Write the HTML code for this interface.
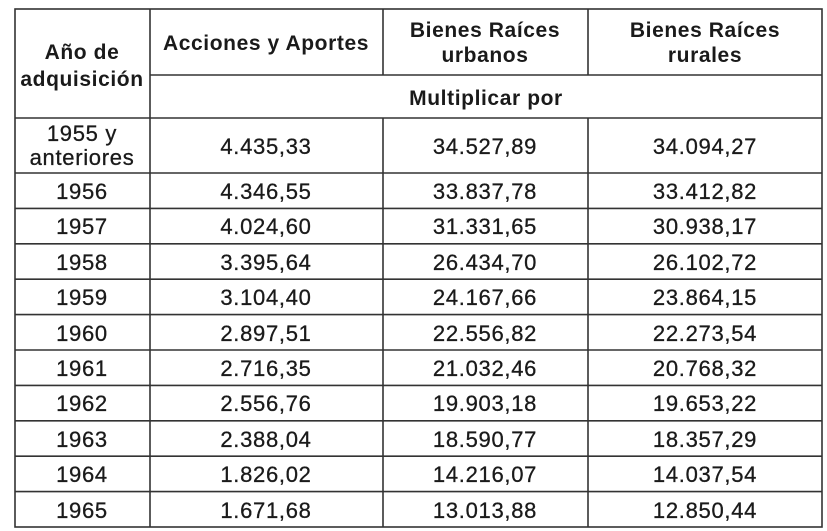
<!DOCTYPE html>
<html><head><meta charset="utf-8"><style>
html,body{margin:0;padding:0;background:#fff;width:827px;height:531px;overflow:hidden}
</style></head><body>
<svg width="827" height="531" xmlns="http://www.w3.org/2000/svg" font-family="Liberation Sans, Arial, sans-serif" fill="#1a1a1a">
<g stroke="#333" stroke-width="1.6" fill="none">
<rect x="15" y="9" width="807" height="518"/>
<line x1="150" y1="9" x2="150" y2="527"/>
<line x1="383" y1="9" x2="383" y2="75"/>
<line x1="588" y1="9" x2="588" y2="75"/>
<line x1="383" y1="118" x2="383" y2="527"/>
<line x1="588" y1="118" x2="588" y2="527"/>
<line x1="150" y1="75" x2="822" y2="75"/>
<line x1="15" y1="118" x2="822" y2="118"/>
<line x1="15" y1="173" x2="822" y2="173"/>
<line x1="15" y1="208.4" x2="822" y2="208.4"/>
<line x1="15" y1="243.8" x2="822" y2="243.8"/>
<line x1="15" y1="279.2" x2="822" y2="279.2"/>
<line x1="15" y1="314.6" x2="822" y2="314.6"/>
<line x1="15" y1="350" x2="822" y2="350"/>
<line x1="15" y1="385.4" x2="822" y2="385.4"/>
<line x1="15" y1="420.8" x2="822" y2="420.8"/>
<line x1="15" y1="456.2" x2="822" y2="456.2"/>
<line x1="15" y1="491.6" x2="822" y2="491.6"/>
</g>
<g font-weight="bold" font-size="21" letter-spacing="0.6" text-anchor="middle">
<text x="82" y="59">Año de</text>
<text x="82" y="86">adquisición</text>
<text x="266" y="50">Acciones y Aportes</text>
<text x="485" y="37">Bienes Raíces</text>
<text x="485" y="62">urbanos</text>
<text x="705" y="37">Bienes Raíces</text>
<text x="705" y="62">rurales</text>
<text x="486" y="105">Multiplicar por</text>
</g>
<g font-size="22" letter-spacing="0.7" text-anchor="middle" stroke="#1a1a1a" stroke-width="0.3">
<text x="82" y="141">1955 y</text>
<text x="82" y="165">anteriores</text>
<text x="266" y="154">4.435,33</text><text x="485" y="154">34.527,89</text><text x="705" y="154">34.094,27</text>
<text x="82" y="199">1956</text><text x="266" y="199">4.346,55</text><text x="485" y="199">33.837,78</text><text x="705" y="199">33.412,82</text>
<text x="82" y="234">1957</text><text x="266" y="234">4.024,60</text><text x="485" y="234">31.331,65</text><text x="705" y="234">30.938,17</text>
<text x="82" y="270">1958</text><text x="266" y="270">3.395,64</text><text x="485" y="270">26.434,70</text><text x="705" y="270">26.102,72</text>
<text x="82" y="305">1959</text><text x="266" y="305">3.104,40</text><text x="485" y="305">24.167,66</text><text x="705" y="305">23.864,15</text>
<text x="82" y="341">1960</text><text x="266" y="341">2.897,51</text><text x="485" y="341">22.556,82</text><text x="705" y="341">22.273,54</text>
<text x="82" y="376">1961</text><text x="266" y="376">2.716,35</text><text x="485" y="376">21.032,46</text><text x="705" y="376">20.768,32</text>
<text x="82" y="411">1962</text><text x="266" y="411">2.556,76</text><text x="485" y="411">19.903,18</text><text x="705" y="411">19.653,22</text>
<text x="82" y="447">1963</text><text x="266" y="447">2.388,04</text><text x="485" y="447">18.590,77</text><text x="705" y="447">18.357,29</text>
<text x="82" y="482">1964</text><text x="266" y="482">1.826,02</text><text x="485" y="482">14.216,07</text><text x="705" y="482">14.037,54</text>
<text x="82" y="518">1965</text><text x="266" y="518">1.671,68</text><text x="485" y="518">13.013,88</text><text x="705" y="518">12.850,44</text>
</g>
</svg>
</body></html>
